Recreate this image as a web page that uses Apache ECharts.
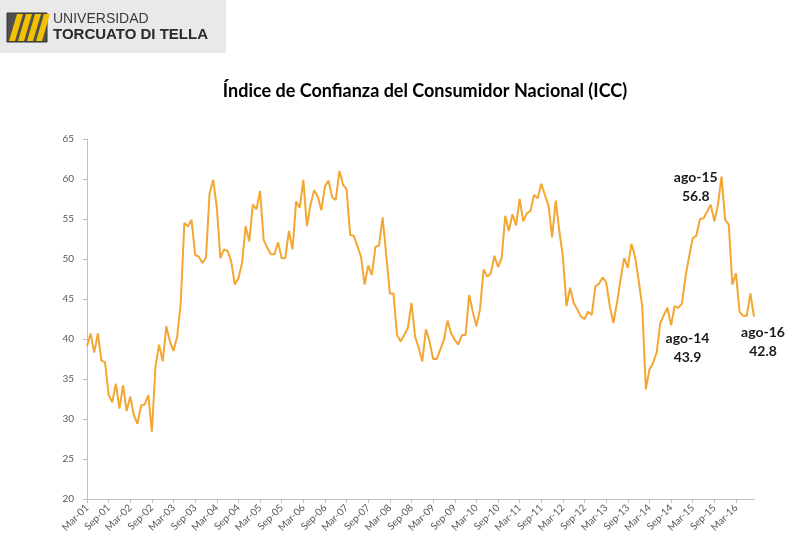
<!DOCTYPE html>
<html>
<head>
<meta charset="utf-8">
<script src="https://cdn.jsdelivr.net/npm/echarts@6/dist/echarts.min.js"></script>
<style>
    html, body {margin: 0; padding: 0; background: #ffffff;}
    #main {width: 790px; height: 556px;}
</style>
</head>
<body>
<div id="main"></div>
<script>
    // meses (eje x)
    const monthNames = ['Jan', 'Feb', 'Mar', 'Apr', 'May', 'Jun', 'Jul', 'Aug', 'Sep', 'Oct', 'Nov', 'Dec'];
    const firstYear = 2001, firstMonth = 2;   // Mar-01
    const lastYear = 2016, lastMonth = 7;     // Aug-16

    const categories = [];
    for (let y = firstYear; y <= lastYear; y++) {
        for (let m = 0; m < 12; m++) {
            if (y === firstYear && m < firstMonth) continue;
            if (y === lastYear && m > lastMonth) continue;
            categories.push(monthNames[m] + '-' + String(y).slice(2));
        }
    }

    // ICC mensual
    const icc = [
        39.1, 40.7, 38.3, 40.7, 37.3, 37.1, 33.0, 32.1, 34.4, 31.3,                 // 2001 (mar-dic)
        34.2, 31.0, 32.8, 30.5, 29.4, 31.7, 31.8, 33.0, 28.4, 36.6, 39.3, 37.2,     // 2002
        41.6, 39.7, 38.5, 40.3, 44.5, 54.5, 54.1, 54.9, 50.5, 50.3, 49.5, 50.2,     // 2003
        58.2, 59.9, 56.5, 50.1, 51.2, 51.0, 49.7, 46.8, 47.6, 49.5, 54.1, 52.2,     // 2004
        56.8, 56.2, 58.5, 52.4, 51.4, 50.6, 50.6, 52.1, 50.1, 50.1, 53.5, 51.2,     // 2005
        57.2, 56.4, 59.9, 54.1, 56.8, 58.6, 57.8, 56.1, 59.1, 59.8, 57.7, 57.4,     // 2006
        61.0, 59.3, 58.7, 53.0, 52.9, 51.6, 50.3, 46.8, 49.2, 48.0, 51.5, 51.7,     // 2007
        55.2, 50.5, 45.7, 45.7, 40.5, 39.7, 40.5, 41.4, 44.5, 40.3, 38.9, 37.2,     // 2008
        41.2, 39.7, 37.5, 37.5, 38.7, 39.9, 42.3, 40.7, 39.9, 39.3, 40.5, 40.5,     // 2009
        45.5, 43.4, 41.6, 43.7, 48.7, 47.8, 48.2, 50.4, 49.0, 50.1, 55.4, 53.5,     // 2010
        55.6, 54.2, 57.5, 54.7, 55.7, 56.0, 58.0, 57.6, 59.4, 58.0, 56.7, 52.7,     // 2011
        57.3, 53.5, 50.3, 44.1, 46.4, 44.5, 43.7, 42.8, 42.5, 43.4, 43.0, 46.6,     // 2012
        46.9, 47.7, 47.1, 44.1, 42.0, 44.5, 47.5, 50.1, 48.9, 51.9, 50.3, 47.4,     // 2013
        44.1, 33.7, 36.2, 37.0, 38.3, 42.0, 43.0, 43.9, 41.7, 44.1, 43.9, 44.4,     // 2014
        47.8, 50.3, 52.6, 52.9, 55.0, 55.1, 55.9, 56.8, 54.7, 56.8, 60.3, 54.9,     // 2015
        54.3, 46.8, 48.2, 43.4, 42.9, 42.9, 45.7, 42.8                              // 2016 (ene-ago)
    ];

    // eje y
    const yMin = 20, yMax = 65, yStep = 5;

    // anotaciones
    const noteNames = ['ago-14', 'ago-15', 'ago-16'];
    const noteCats = ['Aug-14', 'Aug-15', 'Aug-16'];
    const noteOffsets = [[20, 40], [-15, -18], [9, 25]];

    const lineColor = '#F4A632';
    const axisColor = '#BFBFBF';
    const labelColor = '#595959';
    const font = 'Lato, "Liberation Sans", sans-serif';

    const noteData = noteCats.map((c, k) => {
        const v = icc[categories.indexOf(c)];
        return {
            coord: [c, v],
            label: {
                formatter: noteNames[k] + '\n' + v.toFixed(1),
                offset: noteOffsets[k]
            }
        };
    });

    // logo UTDT
    const stripes = [];
    for (let k = 0; k < 4; k++) {
        const x0 = 9 + k * 9;
        stripes.push({
            type: 'polygon',
            shape: {points: [[x0, 41], [x0 + 6, 41], [x0 + 14, 14], [x0 + 8, 14]]},
            style: {fill: '#F2C200'}
        });
    }

    const chart = echarts.init(document.getElementById('main'));
    chart.setOption({
        animation: false,
        backgroundColor: '#ffffff',
        title: {
            text: 'Índice de Confianza del Consumidor Nacional (ICC)',
            left: 420,
            textAlign: 'center',
            top: 77,
            textStyle: {fontFamily: font, fontWeight: 'bold', fontSize: 18, color: '#000000'}
        },
        graphic: [
            {type: 'rect', shape: {x: 0, y: 0, width: 226, height: 53}, style: {fill: '#E9E9E9'}},
            {type: 'rect', shape: {x: 7, y: 13, width: 40, height: 29}, style: {fill: '#505050', stroke: '#333333', lineWidth: 1}},
            ...stripes,
            {type: 'text', left: 53, top: 12, style: {text: 'UNIVERSIDAD', fontFamily: '"Liberation Sans", Arial, sans-serif', fontSize: 14, fill: '#3a3a3a'}},
            {type: 'text', left: 53, top: 27, style: {text: 'TORCUATO DI TELLA', fontFamily: '"Liberation Sans", Arial, sans-serif', fontWeight: 'bold', fontSize: 15, fill: '#2a2a2a'}}
        ],
        grid: {left: 87, right: 36, top: 139, bottom: 57},
        xAxis: {
            type: 'category',
            data: categories,
            boundaryGap: false,
            axisLine: {lineStyle: {color: axisColor}},
            axisTick: {
                show: true,
                length: 4,
                interval: (idx) => idx % 6 === 0,
                lineStyle: {color: axisColor}
            },
            axisLabel: {
                interval: (idx) => idx % 6 === 0,
                rotate: 45,
                margin: 7,
                fontFamily: font,
                fontSize: 10,
                color: labelColor
            },
            splitLine: {show: false}
        },
        yAxis: {
            type: 'value',
            min: yMin,
            max: yMax,
            interval: yStep,
            axisLine: {show: true, lineStyle: {color: axisColor}},
            axisTick: {show: true, length: 4, lineStyle: {color: axisColor}},
            axisLabel: {margin: 13, fontFamily: font, fontSize: 10, color: labelColor},
            splitLine: {show: false}
        },
        series: [{
            type: 'line',
            data: icc,
            showSymbol: false,
            lineStyle: {color: lineColor, width: 2},
            itemStyle: {color: lineColor},
            markPoint: {
                symbol: 'circle',
                symbolSize: 0,
                label: {
                    show: true,
                    position: 'inside',
                    fontFamily: font,
                    fontWeight: 'bold',
                    fontSize: 14,
                    lineHeight: 19,
                    color: '#1a1a1a'
                },
                data: noteData
            }
        }]
    });
</script>
</body>
</html>
